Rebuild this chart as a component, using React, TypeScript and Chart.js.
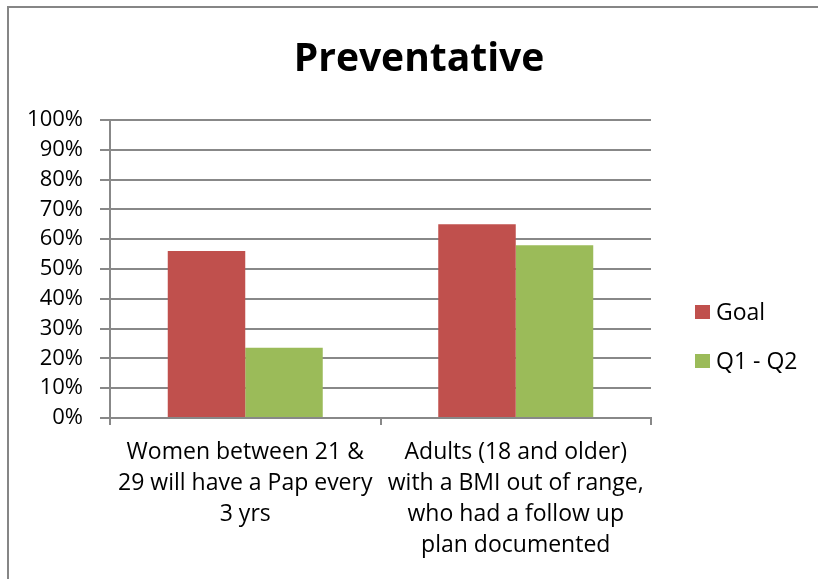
import React, { useEffect, useRef } from "react";
import { Chart, registerables } from "chart.js";

Chart.register(...registerables);

const categories: string[][] = [
  ["Women between 21 &", "29 will have a Pap every", "3 yrs"],
  ["Adults (18 and older)", "with a BMI out of range,", "who had a follow up", "plan documented"],
];
const goalValues = [0.56, 0.65];
const q1q2Values = [0.236, 0.58];
const seriesNames = ["Goal", "Q1 - Q2"];
const seriesColors = ["#C0504D", "#9BBB59"];
const chartTitle = "Preventative";

const FONT = "'Open Sans', Lato, sans-serif";

const framePlugin = {
  id: "framePlugin",
  beforeDraw(chart: any) {
    const ctx = chart.ctx;
    ctx.save();
    ctx.fillStyle = "#ffffff";
    ctx.fillRect(0, 0, chart.width, chart.height);
    ctx.strokeStyle = "#868686";
    ctx.lineWidth = 2;
    ctx.beginPath();
    ctx.moveTo(8, chart.height + 5);
    ctx.lineTo(8, 7);
    ctx.lineTo(chart.width + 5, 7);
    ctx.stroke();
    ctx.restore();
  },
  afterDraw(chart: any) {
    const ctx = chart.ctx;
    ctx.save();
    // title
    ctx.fillStyle = "#000000";
    ctx.font = `bold 39px ${FONT}`;
    ctx.textAlign = "center";
    ctx.textBaseline = "alphabetic";
    ctx.fillText(chartTitle, 419, 71);
    // legend
    ctx.font = `23px ${FONT}`;
    ctx.textAlign = "left";
    ctx.textBaseline = "middle";
    const ys = [312, 361];
    chart.data.datasets.forEach((ds: any, i: number) => {
      ctx.fillStyle = ds.backgroundColor;
      ctx.fillRect(695, ys[i] - 7, 15, 14);
      ctx.fillStyle = "#000000";
      ctx.fillText(ds.label, 716, ys[i] + 1);
    });
    ctx.restore();
  },
};

export default function App() {
  const canvasRef = useRef<HTMLCanvasElement | null>(null);

  useEffect(() => {
    document.body.style.margin = "0";
    const canvas = canvasRef.current;
    if (!canvas) return;
    const chart = new Chart(canvas, {
      type: "bar",
      data: {
        labels: categories,
        datasets: [
          {
            label: seriesNames[0],
            data: goalValues,
            backgroundColor: seriesColors[0],
            categoryPercentage: 0.573,
            barPercentage: 1,
          },
          {
            label: seriesNames[1],
            data: q1q2Values,
            backgroundColor: seriesColors[1],
            categoryPercentage: 0.573,
            barPercentage: 1,
          },
        ],
      },
      options: {
        responsive: false,
        animation: false,
        devicePixelRatio: 1,
        layout: { padding: { left: 15, right: 167, top: 120, bottom: 0 } },
        plugins: {
          legend: { display: false },
          title: { display: false },
          tooltip: { enabled: false },
        },
        scales: {
          y: {
            min: 0,
            max: 1,
            afterFit: (s: any) => {
              s.width = 95;
            },
            ticks: {
              stepSize: 0.1,
              autoSkip: false,
              callback: (v: any) => Math.round(Number(v) * 100) + "%",
              font: { family: FONT, size: 22, lineHeight: 1.2 },
              color: "#000000",
              padding: 17,
            },
            grid: { color: "#888888", lineWidth: 2, tickLength: 10 },
            border: { color: "#888888", width: 2 },
          },
          x: {
            afterFit: (s: any) => {
              s.height = 161;
            },
            ticks: {
              font: { family: FONT, size: 23, lineHeight: 1.35 },
              color: "#000000",
              padding: 12,
              maxRotation: 0,
              autoSkip: false,
            },
            grid: { drawOnChartArea: false, offset: true, color: "#888888", lineWidth: 2, tickLength: 7 },
            border: { color: "#888888", width: 2 },
          },
        },
      },
      plugins: [framePlugin],
    });
    return () => chart.destroy();
  }, []);

  return (
    <div style={{ width: 818, height: 579 }}>
      <canvas ref={canvasRef} width={818} height={579} style={{ display: "block" }} />
    </div>
  );
}
